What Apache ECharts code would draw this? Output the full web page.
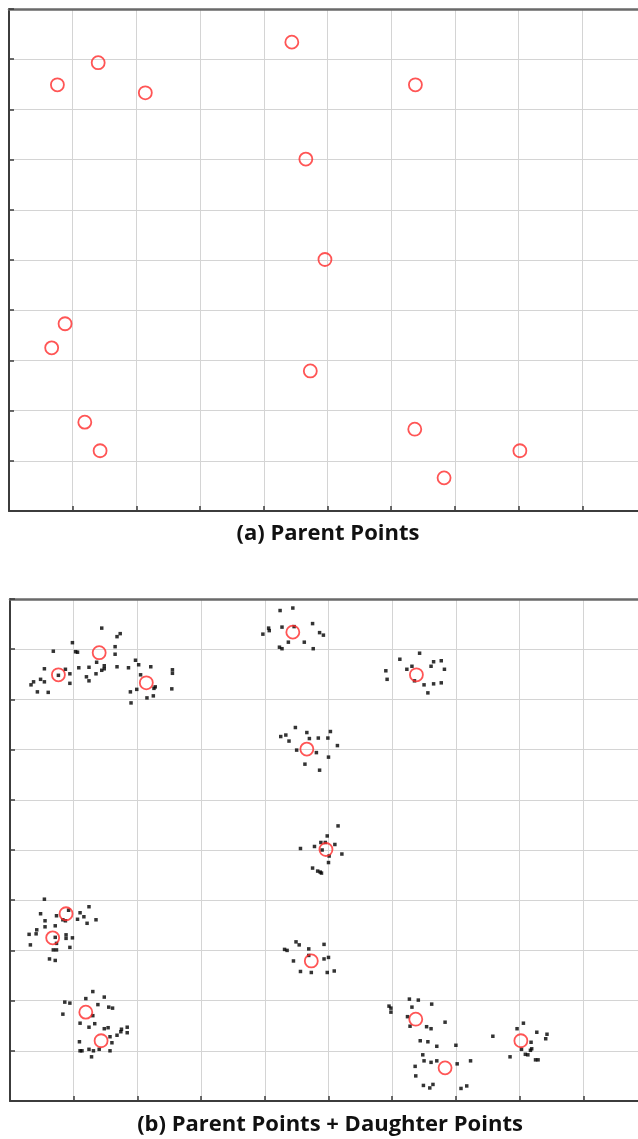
<!DOCTYPE html>
<html>
<head>
<meta charset="utf-8">
<script src="https://cdn.jsdelivr.net/npm/echarts@6/dist/echarts.min.js"></script>
<style>
  html, body { margin: 0; padding: 0; background: #fff; overflow: hidden; }
  /* plot area runs past the right edge of the window, as in the source figure */
  #chart { width: 660px; height: 1139px; }
</style>
</head>
<body>
<div id="chart"></div>
<script>
// parent points (x, y)
var parentPoints = [
  [0.76, 8.49], [1.40, 8.93], [2.14, 8.33], [4.44, 9.34], [4.66, 7.01],
  [6.38, 8.49], [4.96, 5.01], [0.88, 3.73], [0.67, 3.25], [4.73, 2.79],
  [1.19, 1.77], [1.43, 1.20], [6.37, 1.63], [6.83, 0.66], [8.02, 1.20]
];

// daughter points, read cluster by cluster
var daughterPoints = [
  // top-left clusters
  [1.44, 9.42], [1.73, 9.31], [1.68, 9.25], [0.98, 9.13], [0.68, 8.96], [1.03, 8.95], [1.06, 8.94],
  [1.65, 9.05], [1.65, 8.90], [1.97, 8.78], [2.02, 8.69], [2.21, 8.65], [0.54, 8.61], [0.87, 8.60],
  [1.08, 8.63], [1.24, 8.64], [1.36, 8.74], [1.48, 8.67], [1.48, 8.61], [1.44, 8.58], [1.68, 8.65],
  [1.86, 8.63], [0.94, 8.51], [0.76, 8.48], [1.35, 8.51], [1.20, 8.45], [1.24, 8.37], [0.48, 8.40],
  [0.54, 8.35], [0.37, 8.35], [0.33, 8.29], [0.94, 8.32], [0.43, 8.15], [0.60, 8.14], [2.55, 8.59],
  [2.55, 8.52], [2.54, 8.21], [2.28, 8.25], [2.26, 8.22], [2.05, 8.49], [1.89, 8.15], [1.99, 8.20],
  [2.25, 8.07], [2.15, 8.03], [1.90, 7.93],
  // around (4.44, 9.34)
  [4.24, 9.77], [4.44, 9.82], [4.06, 9.42], [4.07, 9.37], [3.97, 9.30], [4.27, 9.44], [4.46, 9.45],
  [4.75, 9.51], [4.86, 9.33], [4.92, 9.28], [4.37, 9.14], [4.62, 9.14], [4.23, 9.04], [4.27, 9.01],
  [4.76, 9.01],
  // around (6.38, 8.49)
  [6.43, 8.92], [6.12, 8.80], [6.65, 8.75], [6.77, 8.77], [5.90, 8.57], [5.92, 8.40], [6.23, 8.60],
  [6.31, 8.66], [6.61, 8.66], [6.82, 8.60], [6.35, 8.37], [6.50, 8.29], [6.65, 8.31], [6.77, 8.33],
  [6.56, 8.13],
  // around (4.66, 7.01)
  [4.48, 7.44], [4.25, 7.26], [4.33, 7.29], [4.38, 7.17], [4.66, 7.34], [4.70, 7.22], [4.84, 7.23],
  [4.99, 7.23], [5.03, 7.36], [5.14, 7.08], [4.50, 6.99], [4.81, 6.94], [5.00, 6.85], [4.63, 6.71],
  [4.86, 6.59],
  // around (4.96, 5.01)
  [5.15, 5.48], [4.98, 5.28], [4.88, 5.15], [4.95, 5.15], [5.10, 5.11], [4.78, 5.07], [4.56, 5.03],
  [4.90, 5.00], [5.01, 4.88], [5.21, 4.92], [5.00, 4.75], [4.75, 4.64], [4.83, 4.58], [4.87, 4.56],
  [4.89, 4.54],
  // left middle clusters
  [0.54, 4.02], [0.48, 3.73], [0.92, 3.80], [0.83, 3.61], [0.87, 3.59], [0.73, 3.69], [1.10, 3.75],
  [1.16, 3.67], [1.24, 3.87], [1.06, 3.62], [1.21, 3.54], [1.35, 3.61], [0.55, 3.59], [0.55, 3.47],
  [0.71, 3.49], [0.42, 3.41], [0.41, 3.33], [0.30, 3.32], [0.88, 3.31], [0.88, 3.24], [0.98, 3.25],
  [0.71, 3.26], [0.32, 3.11], [0.73, 3.14], [0.94, 3.06], [0.68, 3.01], [0.73, 3.01], [0.62, 2.83],
  [0.71, 2.80],
  // left bottom clusters
  [0.86, 1.97], [0.94, 1.95], [0.83, 1.73], [1.19, 2.04], [1.30, 2.18], [1.48, 2.07], [1.38, 1.92],
  [1.55, 1.87], [1.61, 1.85], [1.30, 1.70], [1.10, 1.55], [1.24, 1.47], [1.33, 1.54], [1.48, 1.44],
  [1.54, 1.46], [1.68, 1.31], [1.74, 1.38], [1.75, 1.43], [1.84, 1.47], [1.84, 1.36], [1.57, 1.28],
  [1.60, 1.16], [1.09, 1.18], [1.10, 1.00], [1.13, 1.00], [1.24, 1.03], [1.31, 1.00], [1.40, 1.03],
  [1.28, 0.88], [1.57, 1.00],
  // around (4.73, 2.79)
  [4.49, 3.17], [4.54, 3.11], [4.31, 3.02], [4.35, 3.00], [4.69, 3.03], [4.93, 3.12], [4.69, 2.90],
  [4.45, 2.79], [4.93, 2.83], [5.00, 2.86], [4.56, 2.58], [4.73, 2.56], [4.98, 2.56], [5.09, 2.59],
  // around (6.37, 1.63) and (6.83, 0.66)
  [5.95, 1.89], [5.98, 1.85], [5.98, 1.77], [6.27, 2.03], [6.41, 2.01], [6.31, 1.87], [6.62, 1.93],
  [6.24, 1.68], [6.28, 1.49], [6.54, 1.48], [6.61, 1.44], [6.83, 1.57], [6.44, 1.20], [6.56, 1.18],
  [6.70, 1.09], [7.00, 1.11], [6.48, 0.92], [6.50, 0.80], [6.61, 0.77], [6.70, 0.80], [7.02, 0.74],
  [7.23, 0.80], [6.36, 0.69], [6.37, 0.50], [6.49, 0.31], [6.59, 0.26], [6.64, 0.33], [7.08, 0.25],
  [7.17, 0.30],
  // around (8.02, 1.20)
  [7.58, 1.29], [7.96, 1.44], [8.06, 1.55], [8.27, 1.37], [8.43, 1.33], [8.41, 1.24], [8.18, 1.17],
  [8.03, 1.03], [8.17, 1.01], [8.19, 1.04], [8.09, 0.93], [8.13, 0.92], [7.85, 0.88], [8.25, 0.82],
  [8.29, 0.82]
];

var panelTitles = ["(a) Parent Points", "(b) Parent Points + Daughter Points"];

var C = {
  axis: "#3c3c3c",
  frame: "#6a6a6a",
  grid: "#d4d4d4",
  red: "#ff2a2a",
  dot: "#000000"
};

var chart = echarts.init(document.getElementById("chart"), null, { renderer: "canvas" });

function valueAxis(dim, gridIndex) {
  return {
    type: "value",
    gridIndex: gridIndex,
    min: 0,
    max: 10,
    interval: 1,
    position: dim === "x" ? "bottom" : "left",
    axisLine: { show: true, onZero: false, lineStyle: { color: C.axis, width: 2 } },
    axisTick: { show: true, inside: true, length: 5, lineStyle: { color: C.axis, width: 1.5 } },
    axisLabel: { show: false },
    splitLine: { show: true, lineStyle: { color: C.grid, width: 1 } }
  };
}

function topFrame(gridIndex) {
  return {
    type: "value",
    gridIndex: gridIndex,
    min: 0,
    max: 10,
    position: "top",
    axisLine: { show: true, onZero: false, lineStyle: { color: C.frame, width: 2.5 } },
    axisTick: { show: false },
    axisLabel: { show: false },
    splitLine: { show: false }
  };
}

var parentStyle = {
  color: "rgba(0,0,0,0)",
  borderColor: C.red,
  borderWidth: 1.8
};

var titleText = { fontFamily: "Open Sans", fontWeight: "bold", fontSize: 22, color: "#111" };

chart.setOption({
  animation: false,
  backgroundColor: "#fff",
  title: [
    { text: panelTitles[0], left: 323, top: 518, textAlign: "center", textStyle: titleText },
    { text: panelTitles[1], left: 325, top: 1109, textAlign: "center", textStyle: titleText }
  ],
  grid: [
    { left: 9, top: 9, width: 637, height: 502 },
    { left: 10, top: 599, width: 637, height: 502 }
  ],
  xAxis: [valueAxis("x", 0), valueAxis("x", 1), topFrame(0), topFrame(1)],
  yAxis: [valueAxis("y", 0), valueAxis("y", 1)],
  series: [
    {
      name: "parents a",
      type: "scatter",
      xAxisIndex: 0,
      yAxisIndex: 0,
      data: parentPoints,
      symbol: "circle",
      symbolSize: 13,
      itemStyle: parentStyle
    },
    {
      name: "daughters",
      type: "scatter",
      xAxisIndex: 1,
      yAxisIndex: 1,
      data: daughterPoints,
      symbol: "rect",
      symbolSize: 3.5,
      itemStyle: { color: C.dot }
    },
    {
      name: "parents b",
      type: "scatter",
      xAxisIndex: 1,
      yAxisIndex: 1,
      data: parentPoints,
      symbol: "circle",
      symbolSize: 13,
      itemStyle: parentStyle,
      z: 3
    }
  ]
});
</script>
</body>
</html>
